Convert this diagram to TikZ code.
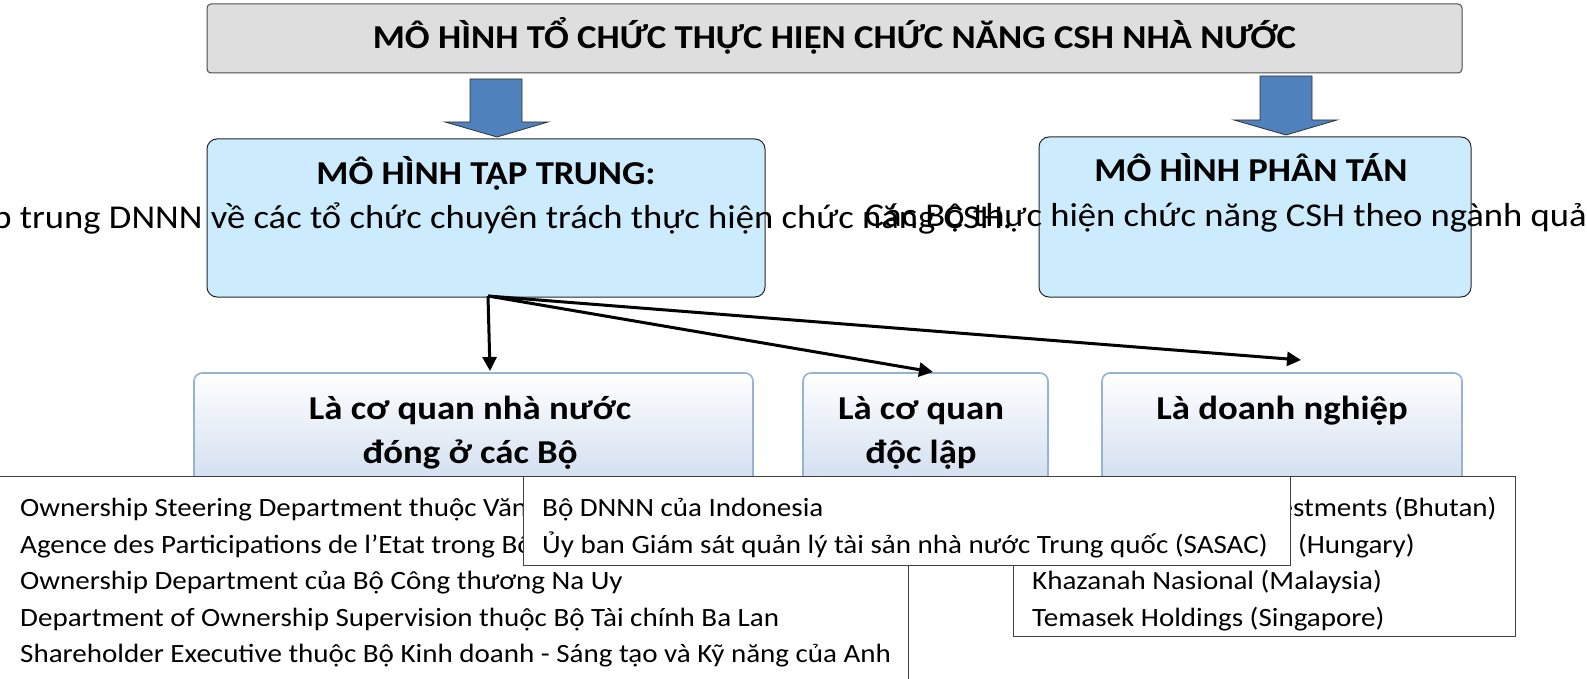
\documentclass[tikz,border=0pt]{standalone}
\usepackage{fontspec}
\setmainfont{Carlito}[FakeStretch=1.1]
\usetikzlibrary{arrows.meta}
\definecolor{titlefill}{HTML}{DEDEDE}
\definecolor{boxblue}{HTML}{CCEBFC}
\definecolor{arrowblue}{HTML}{4F81BD}
\definecolor{lowtop}{HTML}{FFFFFF}
\definecolor{lowbot}{HTML}{C2D3EA}
\definecolor{lowedge}{HTML}{95B3D7}
\tikzset{
  titlebox/.style={draw=black!70, fill=titlefill, rounded corners=4pt, line width=1pt},
  modelbox/.style={draw=black!85, fill=boxblue, rounded corners=10pt, line width=1pt},
  lowbox/.style={draw=lowedge, top color=lowtop, bottom color=lowbot, rounded corners=8pt, line width=1.6pt},
  listbox/.style={draw=black!75, fill=white, line width=0.9pt},
  blockarrow/.style={draw=black!80, fill=arrowblue, line width=0.8pt},
  conn/.style={draw=black, line width=3pt, -{Triangle[length=14pt,width=14pt]}},
  boldtxt/.style={font=\fontsize{33.4}{38}\selectfont\bfseries, inner sep=0pt, anchor=base},
  bodytxt/.style={font=\fontsize{33.3}{38}\selectfont, inner sep=0pt, anchor=base},
  listtxt/.style={font=\fontsize{26.4}{36.5}\selectfont, inner sep=0pt, anchor=base west},
}
\begin{document}
\begin{tikzpicture}[x=1pt,y=-1pt]
\useasboundingbox (0,0) rectangle (1587,679);
% title
\draw[titlebox] (207,4) rectangle (1462,73);
\node[boldtxt] (title) at (834.5,48.5) {MÔ HÌNH TỔ CHỨC THỰC HIỆN CHỨC NĂNG CSH NHÀ NƯỚC};
% block arrows
\draw[blockarrow] (470,79) -- (522,79) -- (522,122) -- (548,122) -- (497,137) -- (445,122) -- (470,122) -- cycle;
\draw[blockarrow] (1260,76) -- (1312,76) -- (1312,120) -- (1337,120) -- (1286,135) -- (1234,120) -- (1260,120) -- cycle;
% model boxes
\draw[modelbox] (207,139) rectangle (765,297);
\draw[modelbox] (1039,137) rectangle (1471,297);
\node[boldtxt] (tt) at (486,185) {MÔ HÌNH TẠP TRUNG:};
\node[bodytxt] (ttbody) at (486,229) {Tập trung DNNN về các tổ chức chuyên trách thực hiện chức năng CSH.};
\node[boldtxt] (pt) at (1251,182) {MÔ HÌNH PHÂN TÁN};
\node[bodytxt] (ptbody) at (1252,226) {Các Bộ thực hiện chức năng CSH theo ngành quản lý};
% lower boxes
\draw[lowbox] (194,373) rectangle (753,520);
\draw[lowbox] (803,373) rectangle (1048,520);
\draw[lowbox] (1102,373) rectangle (1462,520);
\node[boldtxt] (l1) at (470,419) {Là cơ quan nhà nước};
\node[boldtxt] (l1b) at (470,463) {đóng ở các Bộ};
\node[boldtxt] (l2) at (921,419) {Là cơ quan};
\node[boldtxt] (l2b) at (921,463) {độc lập};
\node[boldtxt] (l3) at (1282,419) {Là doanh nghiệp};
% connectors
\coordinate (src) at (488,296);
\coordinate (t1) at (490,371);
\coordinate (t2) at (933,372);
\coordinate (t3) at (1301,360);
\draw[conn] (src) -- (t1);
\draw[conn] (src) -- (t2);
\draw[conn] (src) -- (t3);
% list boxes
\draw[listbox] (-2,476) rectangle (908,690);
\node[listtxt] (a1) at (20,516.5) {Ownership Steering Department thuộc Văn phòng Thủ tướng Phần Lan};
\node[listtxt] (a2) at (20,553) {Agence des Participations de l’Etat trong Bộ Kinh tế Pháp};
\node[listtxt] (a3) at (20,589.5) {Ownership Department của Bộ Công thương Na Uy};
\node[listtxt] (a4) at (20,626) {Department of Ownership Supervision thuộc Bộ Tài chính Ba Lan};
\node[listtxt] (a5) at (20,662.5) {Shareholder Executive thuộc Bộ Kinh doanh - Sáng tạo và Kỹ năng của Anh};
\draw[listbox] (1013,476) rectangle (1515,636);
\node[listtxt] (c1) at (1032,516.5) {Druk Holding and Investments (Bhutan)};
\node[listtxt] (c2) at (1032,553) {State Assets Company (Hungary)};
\node[listtxt] (c3) at (1032,589.5) {Khazanah Nasional (Malaysia)};
\node[listtxt] (c4) at (1032,626) {Temasek Holdings (Singapore)};
\draw[listbox] (523,476) rectangle (1290,565);
\node[listtxt] (b1) at (542,516.5) {Bộ DNNN của Indonesia};
\node[listtxt] (b2) at (542,553) {Ủy ban Giám sát quản lý tài sản nhà nước Trung quốc (SASAC)};
\end{tikzpicture}
\end{document}
